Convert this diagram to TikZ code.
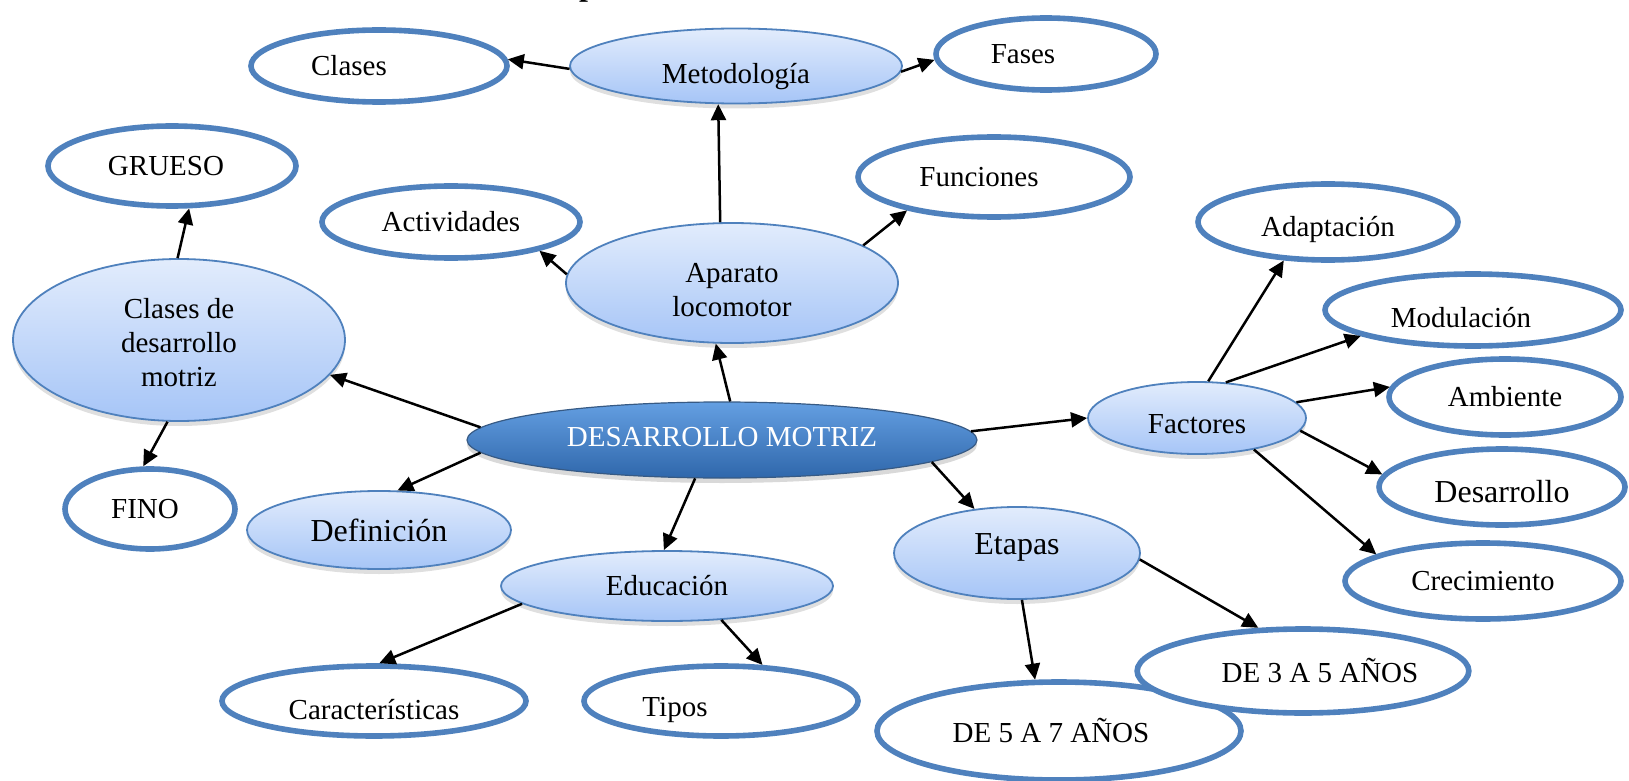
\documentclass[tikz,border=0pt]{standalone}
\usepackage{fontspec}
\setmainfont{Liberation Serif}
\usetikzlibrary{shapes.geometric,shadows,arrows.meta}

\definecolor{borde}{HTML}{4F81BD}
\definecolor{claroA}{HTML}{E2ECFC}
\definecolor{claroB}{HTML}{A6C5F7}
\definecolor{oscuroA}{HTML}{649FE2}
\definecolor{oscuroB}{HTML}{2F67AB}

\tikzset{
  texto/.style={font=\fontsize{14.5}{17}\selectfont},
  grande/.style={font=\fontsize{16}{19}\selectfont},
  burbuja/.style={ellipse, draw=borde, line width=0.9pt, top color=claroA, bottom color=claroB,
    drop shadow={opacity=0.25, shadow xshift=0pt, shadow yshift=-2.5pt}, inner sep=1pt, align=center, texto},
  central/.style={ellipse, draw=borde!70!black, line width=0.6pt, top color=oscuroA, bottom color=oscuroB,
    drop shadow={opacity=0.3, shadow xshift=0pt, shadow yshift=-2.5pt}, text=white, inner sep=1pt, texto},
  hoja/.style={ellipse, draw=borde, line width=2.8pt, fill=white, inner sep=1pt, align=center, texto},
  flecha/.style={-{Triangle[length=8pt,width=7.5pt]}, line width=1.25pt},
}

\begin{document}
\begin{tikzpicture}[x=0.5pt, y=-0.5pt]
    \useasboundingbox (0,0) rectangle (1629,781);

    % titulo (cortado arriba)
    \node[anchor=south, inner sep=0pt, font=\fontsize{16}{19}\selectfont\bfseries] (titulo) at (588,3) {p};

    % Centro
    \node[central, minimum width=255pt, minimum height=38pt, text height=9.6pt, text depth=3.2pt] (dm) at (722,440) {DESARROLLO MOTRIZ};

    % Aparato locomotor
    \node[burbuja, minimum width=166pt, minimum height=60pt] (aparato) at (732,283) {\rule{0pt}{17pt}Aparato\\locomotor};
    \node[burbuja, minimum width=166pt, minimum height=37.5pt, text height=21pt, text depth=3pt] (metodo) at (736,66) {Metodología};
    \node[hoja, minimum width=128pt, minimum height=36pt] (clases) at (379,66) {Clases\hspace*{30pt}};
    \node[hoja, minimum width=110pt, minimum height=36pt] (fases) at (1046,54) {Fases\hspace*{23pt}};
    \node[hoja, minimum width=129pt, minimum height=36pt] (activ) at (451,222) {Actividades};
    \node[hoja, minimum width=136pt, minimum height=40pt] (funciones) at (994,177) {Funciones\hspace*{15pt}};

    % Clases de desarrollo motriz
    \node[burbuja, minimum width=166pt, minimum height=81pt] (clasesdm) at (179,340) {\rule{0pt}{13pt}Clases de\\desarrollo\\motriz};
    \node[hoja, minimum width=124pt, minimum height=40pt] (grueso) at (172,166) {GRUESO\hspace*{6pt}};
    \node[hoja, minimum width=85pt, minimum height=40pt] (fino) at (150,509) {FINO\hspace*{5pt}};

    % Definicion y Educacion
    \node[burbuja, minimum width=132pt, minimum height=39pt, grande] (defin) at (379,530) {Definición};
    \node[burbuja, minimum width=166pt, minimum height=35pt] (educ) at (667,586) {Educación};
    \node[hoja, minimum width=152pt, minimum height=35pt, text height=18.5pt, text depth=0.3pt] (caract) at (374,701) {Características};
    \node[hoja, minimum width=137pt, minimum height=35pt, text height=18pt, text depth=3pt] (tipos) at (721,701) {Tipos\hspace*{46pt}};

    % Etapas
    \node[burbuja, minimum width=123pt, minimum height=46pt, grande, text height=5.4pt, text depth=3.5pt] (etapas) at (1017,553) {Etapas};
    \node[hoja, minimum width=182pt, minimum height=49pt] (de57) at (1059,731) {DE 5 A 7 AÑOS\hspace*{8pt}};
    \node[hoja, minimum width=147pt, minimum height=42pt] (de35) at (1303,671) {\hspace*{17pt}DE 3 A 5 AÑOS};

    % Factores
    \node[burbuja, minimum width=109pt, minimum height=36pt, text height=15pt, text depth=0pt] (factores) at (1197,418) {Factores};
    \node[hoja, minimum width=130pt, minimum height=38pt, text height=17pt, text depth=3pt] (adapt) at (1328,222) {Adaptación};
    \node[hoja, minimum width=148pt, minimum height=36pt, text height=17pt, text depth=0pt] (modul) at (1473,310) {Modulación\hspace*{12pt}};
    \node[hoja, minimum width=116pt, minimum height=38pt] (ambiente) at (1505,397) {Ambiente};
    \node[hoja, minimum width=123pt, minimum height=38pt, grande, text height=15pt, text depth=0pt] (desarr) at (1502,487) {Desarrollo};
    \node[hoja, minimum width=138pt, minimum height=38pt] (crec) at (1483,581) {Crecimiento};

    % Flechas
    \draw[flecha] (dm.78) -- (aparato.-105);
    \draw[flecha] (aparato.101) -- (metodo.-115);
    \draw[flecha] (metodo.181) -- (clases.3);
    \draw[flecha] (metodo.-2) -- (fases.-177);
    \draw[flecha] (aparato.177) -- (activ.-18);
    \draw[flecha] (aparato.16) -- (funciones.-159);
    \draw[flecha] (clasesdm.91) -- (grueso.-68);
    \draw[flecha] (clasesdm.-98) -- (fino.99);
    \draw[flecha] (dm.177) -- (clasesdm.-13);
    \draw[flecha] (dm.183) -- (defin.65);
    \draw[flecha] (dm.-125) -- (educ.95);
    \draw[flecha] (dm.2.5) -- (factores.180);
    \draw[flecha] (dm.-6) -- (etapas.134);
    \draw[flecha] (educ.187) -- (caract.82);
    \draw[flecha] (educ.-32) -- (tipos.41);
    \draw[flecha] (etapas.-84) -- (de57.115);
    \draw[flecha] (etapas.-3) -- (de35.136);
    \draw[flecha] (factores.73) -- (adapt.-139);
    \draw[flecha] (factores.51) -- (modul.-167);
    \draw[flecha] (factores.9) -- (ambiente.175);
    \draw[flecha] (factores.-7) -- (desarr.174);
    \draw[flecha] (factores.-29) -- (crec.166);
\end{tikzpicture}
\end{document}
